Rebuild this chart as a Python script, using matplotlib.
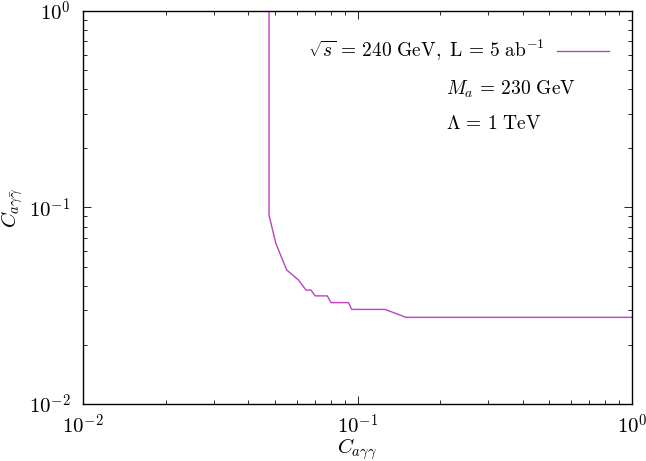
import matplotlib
matplotlib.use('Agg')
import matplotlib.pyplot as plt
from matplotlib.ticker import LogLocator, NullFormatter, FuncFormatter
import numpy as np

plt.rcParams['mathtext.fontset'] = 'cm'
plt.rcParams['font.family'] = 'serif'
plt.rcParams['font.serif'] = ['DejaVu Serif']

# exclusion contour
c_agg = [0.0476, 0.0476, 0.0504, 0.0552, 0.0609, 0.0649, 0.0677, 0.0700, 0.0776,
         0.0801, 0.0927, 0.0953, 0.1260, 0.1502, 1.0]
c_agbg = [1.0, 0.0916, 0.0657, 0.0481, 0.0428, 0.0380, 0.0380, 0.0355, 0.0355,
          0.0328, 0.0328, 0.0303, 0.0303, 0.0276, 0.0276]

legend_label = r'$\sqrt{s}\,=\,240\ \mathrm{GeV},\ \mathrm{L}\,=\,5\ \mathrm{ab}^{-1}$'
notes = [r'$M_a\,=\,230\ \mathrm{GeV}$', r'$\Lambda\,=\,1\ \mathrm{TeV}$']


def pow_label(v, pos):
    return r'$10^{%d}$' % int(round(np.log10(v)))


fig = plt.figure(figsize=(6.46, 4.61), dpi=100)
ax = fig.add_axes([83 / 646, 1 - 404 / 461, 549 / 646, 393 / 461])

ax.plot(c_agg, c_agbg, color='#bb40c6', lw=1.0, label=legend_label)

ax.set_xscale('log')
ax.set_yscale('log')
ax.set_xlim(0.01, 1)
ax.set_ylim(0.01, 1)

for axis in (ax.xaxis, ax.yaxis):
    axis.set_major_formatter(FuncFormatter(pow_label))
    axis.set_minor_locator(LogLocator(base=10, subs=range(2, 10)))
    axis.set_minor_formatter(NullFormatter())
ax.tick_params(which='both', direction='in', top=True, right=True, labelsize=15)
ax.tick_params(which='major', length=6, width=0.6)
ax.tick_params(axis='x', which='major', pad=7)
ax.tick_params(axis='y', which='major', pad=9)
ax.tick_params(which='minor', length=3, width=0.6)
for s in ax.spines.values():
    s.set_linewidth(1.0)

ax.set_xlabel(r'$C_{a\gamma\gamma}$', fontsize=15)
ax.set_ylabel(r'$C_{a\gamma\bar{\gamma}}$', fontsize=15)
ax.xaxis.set_label_coords(0.5, -0.083)
ax.yaxis.set_label_coords(-0.105, 0.5)

ax.legend(loc='upper right', bbox_to_anchor=(0.99, 0.975), frameon=False,
          markerfirst=False, fontsize=14, handlelength=2.7, handletextpad=0.6)

ax.text(0.662, 0.80, notes[0], transform=ax.transAxes, fontsize=14, va='center')
ax.text(0.662, 0.713, notes[1], transform=ax.transAxes, fontsize=14, va='center')

fig.savefig('out.png', dpi=100)
